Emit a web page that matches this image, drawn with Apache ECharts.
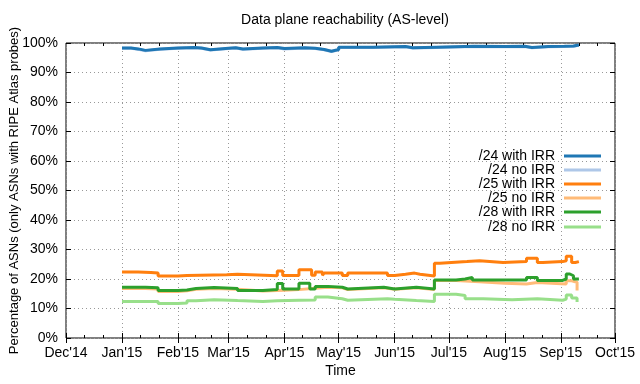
<!DOCTYPE html>
<html>
<head>
<meta charset="utf-8">
<script src="https://cdn.jsdelivr.net/npm/echarts@6/dist/echarts.min.js"></script>
<style>html,body{margin:0;padding:0;background:#fff}#c{width:640px;height:384px}</style>
</head>
<body>
<div id="c"></div>
<script>
// ---- data ----
const titleText = "Data plane reachability (AS-level)";
const xTitle = "Time";
const yTitle = "Percentage of ASNs (only ASNs with RIPE Atlas probes)";
const monthNames = ["Jan","Feb","Mar","Apr","May","Jun","Jul","Aug","Sep","Oct","Nov","Dec"];
const xMin = "2014-12-01";
const xMax = "2015-10-01";
const seriesNames = ["/24 with IRR","/24 no IRR","/25 with IRR","/25 no IRR","/28 with IRR","/28 no IRR"];
const seriesColors = ["#1f77b4","#aec7e8","#ff7f0e","#ffbb78","#2ca02c","#98df8a"];

const s24With = [["2015-01-01",98.3],["2015-01-06",98.0],["2015-01-10",97.5],["2015-01-14",98.0],["2015-01-22",98.3],["2015-02-01",98.5],["2015-02-10",98.3],["2015-02-14",97.7],["2015-02-19",98.2],["2015-03-01",98.4],["2015-03-05",98.0],["2015-03-09",98.3],["2015-03-20",98.5],["2015-03-28",98.1],["2015-04-01",98.4],["2015-04-12",98.2],["2015-04-18",97.8],["2015-04-23",97.2],["2015-04-27",97.8],["2015-05-01",98.6],["2015-05-20",98.8],["2015-06-07",98.4],["2015-06-11",98.6],["2015-06-24",98.9],["2015-07-15",98.8],["2015-08-01",98.9],["2015-08-12",98.5],["2015-08-16",98.8],["2015-08-25",98.9],["2015-09-03",99.0],["2015-09-08",99.3],["2015-09-11",99.3]];
const s24No = [["2015-01-01",98.2],["2015-01-06",97.9],["2015-01-10",97.4],["2015-01-14",97.9],["2015-01-22",98.2],["2015-02-01",98.4],["2015-02-10",98.2],["2015-02-14",97.6],["2015-02-19",98.1],["2015-03-01",98.3],["2015-03-05",97.9],["2015-03-09",98.2],["2015-03-20",98.4],["2015-03-28",98.0],["2015-04-01",98.3],["2015-04-12",98.1],["2015-04-18",97.7],["2015-04-23",97.1],["2015-04-27",97.7],["2015-05-01",98.5],["2015-05-20",98.7],["2015-06-07",98.3],["2015-06-11",98.5],["2015-06-24",98.8],["2015-07-15",98.7],["2015-08-01",98.8],["2015-08-12",98.4],["2015-08-16",98.7],["2015-08-25",98.8],["2015-09-03",98.9],["2015-09-08",99.2],["2015-09-11",99.2]];
const s25With = [["2015-01-01",22.4],["2015-01-10",22.2],["2015-01-17",22.0],["2015-01-21",21.0],["2015-02-01",21.2],["2015-02-06",21.4],["2015-02-28",21.6],["2015-03-06",21.1],["2015-03-28",22.7],["2015-03-31",21.2],["2015-04-09",23.1],["2015-04-16",21.3],["2015-04-18",22.4],["2015-04-22",21.3],["2015-04-23",22.0],["2015-05-03",21.2],["2015-05-06",22.0],["2015-05-28",21.2],["2015-06-01",21.6],["2015-06-07",22.0],["2015-06-12",21.6],["2015-06-15",21.0],["2015-06-23",25.3],["2015-06-26",25.9],["2015-07-11",26.2],["2015-07-18",25.6],["2015-07-31",25.9],["2015-08-13",27.0],["2015-08-19",25.6],["2015-08-22",25.9],["2015-09-02",26.2],["2015-09-04",27.7],["2015-09-07",25.6],["2015-09-09",25.9],["2015-09-11",25.9]];
const s25No = [["2015-01-01",16.8],["2015-01-14",16.6],["2015-01-21",15.8],["2015-02-01",16.0],["2015-02-06",16.5],["2015-02-11",16.8],["2015-02-21",16.5],["2015-03-06",15.9],["2015-03-20",16.2],["2015-04-01",16.4],["2015-04-09",16.9],["2015-04-18",17.2],["2015-04-25",17.0],["2015-05-03",16.4],["2015-05-06",17.0],["2015-05-26",16.5],["2015-06-01",17.0],["2015-06-13",16.4],["2015-06-23",19.5],["2015-07-05",19.1],["2015-07-18",18.6],["2015-08-01",18.3],["2015-08-13",18.8],["2015-08-19",18.3],["2015-09-04",19.4],["2015-09-07",18.9],["2015-09-10",16.1]];
const s28With = [["2015-01-01",17.2],["2015-01-14",17.0],["2015-01-21",16.1],["2015-02-01",16.3],["2015-02-06",16.8],["2015-02-11",17.1],["2015-02-21",16.8],["2015-03-06",16.1],["2015-03-20",16.4],["2015-03-28",18.5],["2015-03-31",16.6],["2015-04-09",18.6],["2015-04-15",16.6],["2015-04-18",17.5],["2015-04-25",17.2],["2015-05-03",16.6],["2015-05-06",17.2],["2015-05-26",16.6],["2015-06-01",17.2],["2015-06-13",16.6],["2015-06-23",19.7],["2015-07-05",20.0],["2015-07-10",20.5],["2015-07-14",19.7],["2015-08-13",20.5],["2015-08-19",19.5],["2015-09-02",20.0],["2015-09-04",21.7],["2015-09-06",21.1],["2015-09-08",20.0],["2015-09-11",20.0]];
const s28No = [["2015-01-01",12.4],["2015-01-21",11.7],["2015-02-01",11.9],["2015-02-06",12.6],["2015-02-11",13.0],["2015-02-21",12.7],["2015-03-06",12.4],["2015-03-20",12.6],["2015-03-28",12.8],["2015-04-09",12.9],["2015-04-18",13.9],["2015-04-25",13.3],["2015-05-03",12.8],["2015-05-06",13.3],["2015-05-28",13.1],["2015-06-01",12.7],["2015-06-13",12.4],["2015-06-23",14.8],["2015-07-05",14.4],["2015-07-10",13.3],["2015-07-20",13.0],["2015-08-05",13.3],["2015-08-19",12.8],["2015-09-02",13.2],["2015-09-04",14.6],["2015-09-07",13.6],["2015-09-10",12.2]];

// ---- chart ----
const FONT = "Liberation Sans, Arial, Helvetica, sans-serif";
const seriesData = [s24With, s24No, s25With, s25No, s28With, s28No];
const drawOrder = [1,0,3,2,5,4];
const chart = echarts.init(document.getElementById('c'), null, {renderer:'canvas'});
const toTime = s => echarts.time.parse(s).getTime();
const tMin = toTime(xMin);
const tMax = toTime(xMax);
function monthLabel(v){const d=new Date(v);return monthNames[d.getMonth()]+"'"+String(d.getFullYear()).slice(2);}
// month boundaries and thirds (minor ticks) derived from the axis range
const monthStarts = [];
{ const d0 = new Date(tMin); for (let d = new Date(d0.getFullYear(), d0.getMonth(), 1); d.getTime() <= tMax; d = new Date(d.getFullYear(), d.getMonth()+1, 1)) monthStarts.push(d.getTime()); }
const minorVals = [];
for (let i=0;i<monthStarts.length-1;i++){const a=monthStarts[i],b=monthStarts[i+1];minorVals.push(a+(b-a)/3,a+2*(b-a)/3);}

const legendRows = [156,170,184,198,212,227];
const legends = seriesNames.map((n,i)=>({
  data:[n], right:39, top:legendRows[i]-7, orient:'vertical', align:'right',
  icon:'rect', itemWidth:37, itemHeight:3, selectedMode:false, padding:0,
  textStyle:{fontFamily:FONT,fontSize:14,color:'#000',padding:[0,4,0,0]}
}));

const commonTick = {inside:true,length:5,lineStyle:{color:'#000',width:1}};
const xBase = (pos)=>({type:'value',position:pos,min:tMin,max:tMax,axisLine:{show:false},splitLine:{show:false},axisLabel:{show:false}});
const option = {
  animation:false,
  backgroundColor:'#fff',
  title:{text:titleText,left:340,top:8,textAlign:'center',textStyle:{fontFamily:FONT,fontSize:14,fontWeight:'normal',color:'#000'}},
  legend:legends,
  grid:{left:66,right:25,top:43,bottom:46,show:true,borderColor:'#000',borderWidth:1,backgroundColor:'transparent',outerBoundsMode:'none',containLabel:false},
  xAxis:[
    Object.assign(xBase('bottom'),{
      name:xTitle,nameLocation:'middle',nameGap:26,nameMoveOverlap:false,nameTextStyle:{fontFamily:FONT,fontSize:14,color:'#000'},
      axisTick:Object.assign({customValues:monthStarts},commonTick),
      axisLabel:{show:true,formatter:monthLabel,customValues:monthStarts,fontFamily:FONT,fontSize:14,color:'#000',margin:8,hideOverlap:false},
      splitLine:{show:true,lineStyle:{color:'#999',type:[1,3],width:1}}
    }),
    Object.assign(xBase('top'),{axisTick:Object.assign({customValues:monthStarts},commonTick)}),
    Object.assign(xBase('bottom'),{axisTick:{inside:true,length:3,lineStyle:{color:'#000',width:1},customValues:minorVals}}),
    Object.assign(xBase('top'),{axisTick:{inside:true,length:3,lineStyle:{color:'#000',width:1},customValues:minorVals}})
  ],
  yAxis:[{
    type:'value',min:0,max:100,interval:10,
    name:yTitle,nameLocation:'middle',nameGap:45,nameMoveOverlap:false,nameTextStyle:{fontFamily:FONT,fontSize:13,color:'#000'},
    axisLine:{show:false},axisTick:commonTick,
    axisLabel:{formatter:'{value}%',fontFamily:FONT,fontSize:14,color:'#000',margin:8},
    splitLine:{show:true,lineStyle:{color:'#999',type:[1,3],width:1}}
  },{
    type:'value',position:'right',min:0,max:100,interval:10,
    axisLine:{show:false},axisTick:commonTick,axisLabel:{show:false},splitLine:{show:false}
  }],
  series:drawOrder.map(i=>({
    name:seriesNames[i],type:'line',step:'end',
    data:seriesData[i].map(p=>[toTime(p[0]),p[1]]),
    showSymbol:false,symbol:'none',color:seriesColors[i],
    lineStyle:{width:3,color:seriesColors[i]},xAxisIndex:0,yAxisIndex:0
  }))
};
chart.setOption(option);
</script>
</body>
</html>
